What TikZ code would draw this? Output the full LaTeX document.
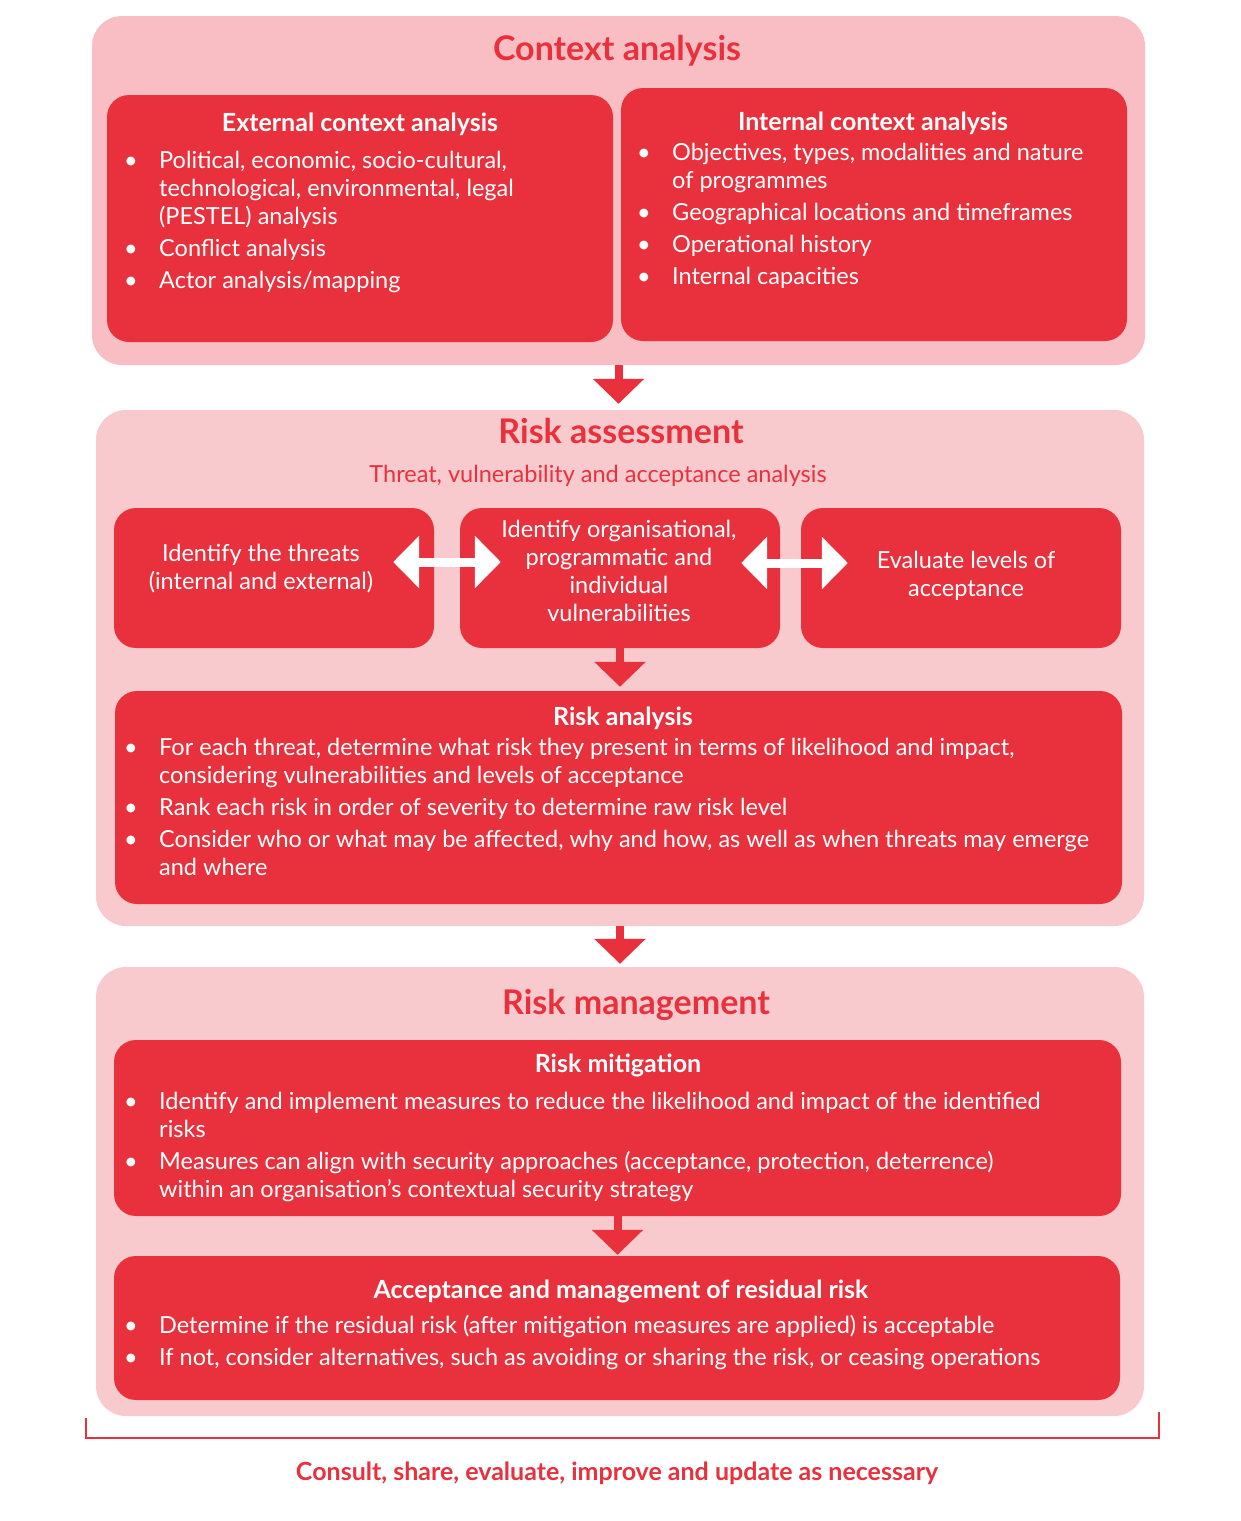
\documentclass[tikz,border=0pt]{standalone}
\usepackage{fontspec}
\setmainfont{Lato}
\usetikzlibrary{arrows.meta,calc}
\definecolor{rmred}{HTML}{E8313D}
\definecolor{rmpinkA}{HTML}{F8BEC3}
\definecolor{rmpinkB}{HTML}{F9CACD}
\newcommand{\bodyfont}{\fontsize{23.5}{28}\selectfont}
\newcommand{\bul}{\makebox[35pt][l]{\textbullet}}
\tikzset{
  outerA/.style={fill=rmpinkA, rounded corners=30pt, inner sep=0pt},
  outerB/.style={fill=rmpinkB, rounded corners=30pt, inner sep=0pt},
  redbox/.style={fill=rmred, rounded corners=22pt, inner sep=0pt},
  secttitle/.style={text=rmred, font=\fontsize{34}{40}\selectfont\bfseries, anchor=base, inner sep=0pt},
  boxhead/.style={text=white, font=\fontsize{25}{30}\selectfont\bfseries, anchor=base, inner sep=0pt},
  boxtext/.style={text=white, font=\bodyfont, align=center, inner sep=0pt},
  bullets/.style={text=white, font=\bodyfont, anchor=base west, inner sep=0pt},
  downarrow/.style={draw=rmred, line width=8pt, -{Triangle[length=25pt,width=50pt]}},
  dblarrow/.style={draw=white, line width=9pt, {Triangle[length=26pt,width=51pt]}-{Triangle[length=26pt,width=51pt]}},
}
\begin{document}
\begin{tikzpicture}[x=1pt,y=-1pt]
\useasboundingbox[fill=white] (0,0) rectangle (1240,1521);

% context analysis
\node[outerA, minimum width=1053pt, minimum height=349pt] (ctx) at (618.5,190.5) {};
\node[secttitle] (ctxtitle) at (617,60) {Context analysis};
\node[redbox, minimum width=506pt, minimum height=247pt] (ext) at (360,218.5) {};
\node[redbox, minimum width=506pt, minimum height=253pt] (int) at (874,214.5) {};
\node[boxhead] (exthead) at (360,131) {External context analysis};
\node[bullets] (extlist) at (124,168) {\begin{tabular}[t]{@{}l@{}l@{}}
  \bul & Political, economic, socio-cultural,\\
       & technological, environmental, legal\\
       & (PESTEL) analysis\\[4pt]
  \bul & Conflict analysis\\[4pt]
  \bul & Actor analysis/mapping
\end{tabular}};
\node[boxhead] (inthead) at (873,130) {Internal context analysis};
\node[bullets] (intlist) at (637,160) {\begin{tabular}[t]{@{}l@{}l@{}}
  \bul & Objectives, types, modalities and nature\\
       & of programmes\\[4pt]
  \bul & Geographical locations and timeframes\\[4pt]
  \bul & Operational history\\[4pt]
  \bul & Internal capacities
\end{tabular}};

% risk assessment
\node[outerB, minimum width=1048pt, minimum height=516pt] (ra) at (620,668) {};
\node[secttitle] (ratitle) at (621,443) {Risk assessment};
\node[text=rmred, font=\bodyfont, anchor=base, inner sep=0pt] (rasub) at (598,482) {Threat, vulnerability and acceptance analysis};
\node[redbox, minimum width=320pt, minimum height=140pt] (thr) at (274,578) {};
\node[redbox, minimum width=320pt, minimum height=140pt] (vul) at (620,578) {};
\node[redbox, minimum width=320pt, minimum height=140pt] (acc) at (961,578) {};
\node[boxtext] (thrtext) at (261,568.5) {Identify the threats\\(internal and external)};
\node[boxtext] (vultext) at (619,570.5) {Identify organisational,\\programmatic and\\individual\\vulnerabilities};
\node[boxtext] (acctext) at (966,576) {Evaluate levels of\\acceptance};
\draw[dblarrow] ($(thr.east)+(-41,-16)$) -- ($(vul.west)+(41,-16)$);
\draw[dblarrow] ($(vul.east)+(-39,-15)$) -- ($(acc.west)+(47,-15)$);
\node[redbox, minimum width=1007pt, minimum height=213pt] (ran) at (618.5,797.5) {};
\draw[downarrow] (vul.south) -- ($(vul.south |- ran.north)+(0,-4)$);
\node[boxhead] (ranhead) at (623,725) {Risk analysis};
\node[bullets] (ranlist) at (124,755) {\begin{tabular}[t]{@{}l@{}l@{}}
  \bul & For each threat, determine what risk they present in terms of likelihood and impact,\\
       & considering vulnerabilities and levels of acceptance\\[4pt]
  \bul & Rank each risk in order of severity to determine raw risk level\\[4pt]
  \bul & Consider who or what may be affected, why and how, as well as when threats may emerge\\
       & and where
\end{tabular}};

% risk management
\node[outerB, minimum width=1048pt, minimum height=449pt] (rm) at (620,1191.5) {};
\draw[downarrow] (ctx.south) -- ($(ctx.south |- ra.north)+(0,-6)$);
\draw[downarrow] (ra.south) -- ($(ra.south |- rm.north)+(0,-3)$);
\node[secttitle] (rmtitle) at (636,1014) {Risk management};
\node[redbox, minimum width=1007pt, minimum height=176pt] (mit) at (617.5,1128) {};
\node[boxhead] (mithead) at (618,1072) {Risk mitigation};
\node[bullets] (mitlist) at (124,1109) {\begin{tabular}[t]{@{}l@{}l@{}}
  \bul & Identify and implement measures to reduce the likelihood and impact of the identified\\
       & risks\\[4pt]
  \bul & Measures can align with security approaches (acceptance, protection, deterrence)\\
       & within an organisation’s contextual security strategy
\end{tabular}};
\node[redbox, minimum width=1006pt, minimum height=144pt] (res) at (617,1328) {};
\draw[downarrow] (mit.south) -- ($(mit.south |- res.north)+(0,-1)$);
\node[boxhead] (reshead) at (621,1298) {Acceptance and management of residual risk};
\node[bullets] (reslist) at (124,1333) {\begin{tabular}[t]{@{}l@{}l@{}}
  \bul & Determine if the residual risk (after mitigation measures are applied) is acceptable\\[4pt]
  \bul & If not, consider alternatives, such as avoiding or sharing the risk, or ceasing operations
\end{tabular}};

% bracket and footer
\draw[rmred, line width=2pt] (86,1418) -- (86,1438) -- (1159,1438) -- (1159,1412);
\node[text=rmred, font=\fontsize{25}{30}\selectfont\bfseries, anchor=base, inner sep=0pt] (foot) at (617,1480) {Consult, share, evaluate, improve and update as necessary};
\end{tikzpicture}
\end{document}
